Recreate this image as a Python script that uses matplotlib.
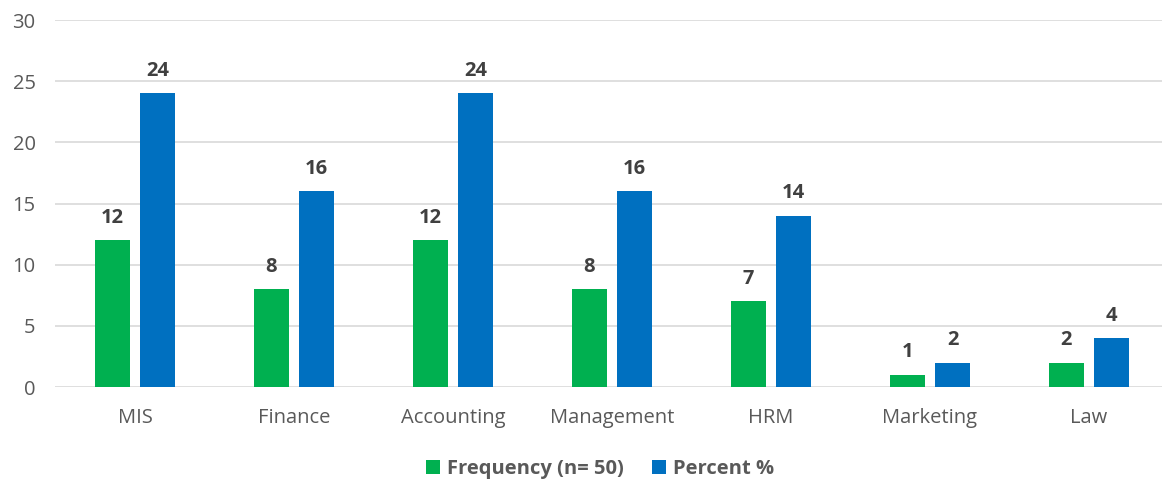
import matplotlib
matplotlib.use("Agg")
import matplotlib.pyplot as plt
import numpy as np

# data
categories = ["MIS", "Finance", "Accounting", "Management", "HRM", "Marketing", "Law"]
frequency = [12, 8, 12, 8, 7, 1, 2]
percent = [24, 16, 24, 16, 14, 2, 4]

plt.rcParams['font.family'] = ['Open Sans', 'DejaVu Sans']

fig = plt.figure(figsize=(11.62, 4.86), dpi=100)
ax = fig.add_axes([55 / 1162, 1 - 387 / 486, 1107 / 1162, 367 / 486])

x = np.arange(len(categories))
w = 0.22
off = 0.143
b1 = ax.bar(x - off, frequency, w, color="#00B050", label="Frequency (n= 50)", zorder=3)
b2 = ax.bar(x + off, percent, w, color="#0070C0", label="Percent %", zorder=3)

for bars in (b1, b2):
    ax.bar_label(bars, padding=9, fontsize=14.5, fontweight="bold", color="#404040")

# category centres ~159 px apart, first at 135 px
ax.set_xlim(-80 / 159, (1162 - 135) / 159)
ax.set_ylim(0, 30)
ax.set_yticks(range(0, 31, 5))
ax.set_xticks(x)
ax.set_xticklabels(categories)
ax.tick_params(axis="both", length=0, labelsize=14.5, colors="#595959")
ax.tick_params(axis="x", pad=15)
ax.tick_params(axis="y", pad=14)
ax.grid(axis="y", color="#D9D9D9", linewidth=1.2, zorder=0)
for s in ax.spines.values():
    s.set_visible(False)

fig.legend(loc="center", bbox_to_anchor=(600 / 1162, 1 - 469 / 486), ncol=2, frameon=False,
           prop={"size": 14.5, "weight": "bold"}, labelcolor="#595959",
           handlelength=0.7, handleheight=0.7, handletextpad=0.35, columnspacing=1.4)

fig.savefig("out.png", dpi=100)
